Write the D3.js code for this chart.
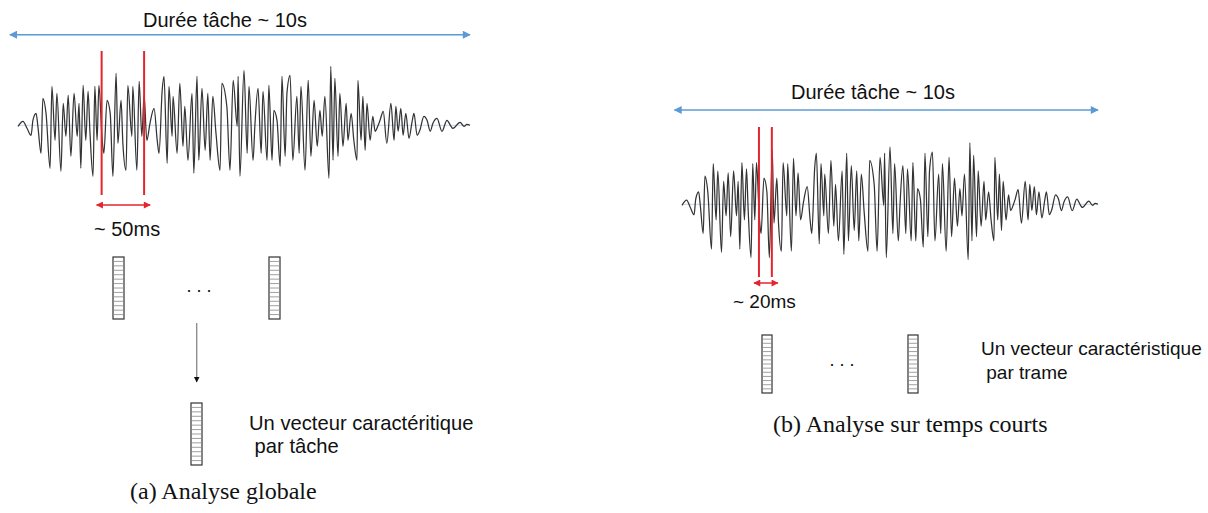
<!DOCTYPE html>
<html><head><meta charset="utf-8">
<script src="https://cdn.jsdelivr.net/npm/d3@7"></script>
<style>html,body{margin:0;padding:0;background:#fff}svg{display:block}</style>
</head><body>
<svg id="c" width="1208" height="513"></svg>
<script>
// ---- data ----
// waveform extrema: time in seconds (task of ~10 s) and amplitude (arbitrary units)
const waveTime = [0,0.11,0.20,0.29,0.33,0.40,0.44,0.51,0.55,0.62,0.71,0.75,0.82,0.86,0.95,1.00,1.06,1.11,1.17,1.24,1.31,1.35,1.39,1.44,1.50,1.55,1.59,1.66,1.70,1.75,1.79,1.86,1.90,1.97,2.04,2.10,2.17,2.21,2.28,2.32,2.39,2.43,2.52,2.54,2.63,2.68,2.74,2.79,2.85,2.92,3.01,3.08,3.12,3.19,3.23,3.30,3.34,3.41,3.43,3.52,3.58,3.65,3.69,3.76,3.85,3.89,3.96,4.00,4.07,4.14,4.20,4.25,4.31,4.38,4.47,4.51,4.62,4.69,4.76,4.85,4.87,4.91,5.00,5.07,5.11,5.20,5.24,5.31,5.38,5.42,5.51,5.55,5.62,5.66,5.73,5.80,5.84,5.91,5.95,6.02,6.08,6.17,6.22,6.26,6.35,6.42,6.48,6.55,6.62,6.68,6.73,6.79,6.88,6.92,6.97,7.01,7.08,7.12,7.19,7.26,7.30,7.37,7.43,7.50,7.52,7.59,7.63,7.68,7.72,7.79,7.85,7.90,7.96,8.01,8.08,8.16,8.25,8.32,8.36,8.41,8.47,8.52,8.58,8.65,8.72,8.76,8.83,8.89,8.98,9.05,9.12,9.18,9.27,9.38,9.49,9.58,9.62,9.78,9.87,9.93,10];
const waveAmp = [-1,4,-3,-10,5,12,-1,-28,27,12,-43,39,-15,32,-46,22,-11,30,-31,32,-11,22,-43,40,-15,34,-5,-51,39,-15,40,-13,-28,25,12,-51,52,-18,25,-18,-45,40,-11,39,-45,44,-11,30,-15,2,17,-15,-28,35,49,-38,39,-11,29,-28,42,-21,19,-35,32,-48,49,-35,37,-25,32,-35,29,-8,-45,42,19,-45,45,-1,49,-51,55,-28,39,-35,-1,37,-28,34,-35,40,-35,15,5,-41,49,-31,32,50,-35,29,-28,39,-45,45,-31,25,-21,15,-11,29,-53,59,-35,47,-31,32,-21,22,-15,12,-15,-35,45,-15,29,-25,22,-15,9,-6,-1,5,14,-18,22,-15,19,-6,17,-10,12,-13,4,12,-10,-5,9,5,-6,2,7,-6,5,-1,-3,3,-1,1,0];
const taskLabel = "Durée tâche ~ 10s";
const windowsSec = [[1.85, 2.79], [1.85, 2.16]];       // analysis window in each panel
const windowLabels = ["~ 50ms", "~ 20ms"];
const vectorCells = 14;
const dotsLabel = ". . .";
const descA = ["Un vecteur caractéritique", " par tâche"];
const descB = ["Un vecteur caractéristique", " par trame"];
const captions = ["(a) Analyse globale", "(b) Analyse sur temps courts"];

// ---- drawing ----
const svg = d3.select("#c");
const wave = waveTime.map((t, i) => ({t, a: waveAmp[i]}));
const BLUE = "#5b9bd5", RED = "#e3262d";
const SANS = "'Liberation Sans', Arial, sans-serif";
const SERIF = "'Liberation Serif', 'Times New Roman', serif";

const defs = svg.append("defs");
function marker(id, color, w, h) {
  defs.append("marker").attr("id", id).attr("viewBox", "0 0 10 10")
    .attr("refX", 9).attr("refY", 5).attr("markerUnits", "userSpaceOnUse")
    .attr("markerWidth", w).attr("markerHeight", h).attr("orient", "auto-start-reverse")
    .append("path").attr("d", "M0,0 L10,5 L0,10 Z").attr("fill", color);
}
marker("bArr", BLUE, 9, 8);
marker("rArr", RED, 8, 7);
marker("kArr", "#111", 6, 7);

function vector(g, x, y, w, h) {
  const cy = d3.scaleLinear().domain([0, vectorCells]).range([y, y + h]);
  g.append("rect").attr("x", x).attr("y", y).attr("width", w).attr("height", h)
    .attr("fill", "#fff").attr("stroke", "#333").attr("stroke-width", 1.2);
  g.selectAll(null).data(d3.range(1, vectorCells)).join("line")
    .attr("x1", x).attr("x2", x + w).attr("y1", d => cy(d)).attr("y2", d => cy(d))
    .attr("stroke", "#888").attr("stroke-width", 0.8);
}

function panel(cfg) {
  const g = svg.append("g");
  const x = d3.scaleLinear().domain([0, 10]).range([cfg.x0, cfg.x1]);
  const y = d3.scaleLinear().domain([-60, 60]).range([cfg.base + 60 * cfg.k, cfg.base - 60 * cfg.k]);
  g.append("text").attr("x", (cfg.x0 + cfg.x1) / 2 + cfg.titleDx).attr("y", cfg.titleY)
    .attr("text-anchor", "middle").attr("font-family", SANS).attr("font-size", 20)
    .attr("fill", "#111").text(taskLabel);
  g.append("line").attr("x1", x(-0.18)).attr("x2", x(10)).attr("y1", cfg.arrowY).attr("y2", cfg.arrowY)
    .attr("stroke", BLUE).attr("stroke-width", 1.5)
    .attr("marker-start", "url(#bArr)").attr("marker-end", "url(#bArr)");
  g.append("line").attr("x1", x(0)).attr("x2", x(10)).attr("y1", y(0)).attr("y2", y(0))
    .attr("stroke", "#a9cfe3").attr("stroke-width", 0.8);
  g.append("path").datum(wave)
    .attr("d", d3.line().x(d => x(d.t)).y(d => y(d.a)).curve(d3.curveMonotoneX))
    .attr("fill", "none").attr("stroke", "#333").attr("stroke-width", 1.25);
  const [w0, w1] = windowsSec[cfg.i];
  g.selectAll(null).data([w0, w1]).join("line")
    .attr("x1", d => x(d)).attr("x2", d => x(d)).attr("y1", cfg.redTop).attr("y2", cfg.redBot)
    .attr("stroke", RED).attr("stroke-width", 2);
  g.append("line").attr("x1", x(w0) - 5).attr("x2", x(w1) + 6).attr("y1", cfg.redArrowY).attr("y2", cfg.redArrowY)
    .attr("stroke", RED).attr("stroke-width", 1.5)
    .attr("marker-start", "url(#rArr)").attr("marker-end", "url(#rArr)");
  g.append("text").attr("x", cfg.winLabelX).attr("y", cfg.winLabelY)
    .attr("font-family", SANS).attr("font-size", cfg.winFs).attr("fill", "#111").text(windowLabels[cfg.i]);
  return g;
}

// Panel (a)
const ga = panel({i: 0, x0: 18, x1: 470, base: 125.3, k: 1.0, titleY: 27, titleDx: -19, arrowY: 34.7,
  redTop: 51, redBot: 195, redArrowY: 205, winLabelX: 94, winLabelY: 236, winFs: 20});
vector(ga, 113, 257, 11, 62);
vector(ga, 269, 257, 11, 62);
ga.append("text").attr("x", 199).attr("y", 292).attr("text-anchor", "middle")
  .attr("font-family", SANS).attr("font-size", 18).attr("fill", "#111").text(dotsLabel);
ga.append("line").attr("x1", 196.7).attr("x2", 196.7).attr("y1", 323).attr("y2", 382)
  .attr("stroke", "#888").attr("stroke-width", 1.3).attr("marker-end", "url(#kArr)");
vector(ga, 191, 403, 11, 62);
ga.selectAll(null).data(descA).join("text").attr("x", 249).attr("y", (d, i) => 430 + i * 23)
  .attr("font-family", SANS).attr("font-size", 20.2).attr("fill", "#111")
  .style("white-space", "pre").text(d => d);
ga.append("text").attr("x", 130).attr("y", 499).attr("font-family", SERIF).attr("font-size", 24)
  .attr("fill", "#111").text(captions[0]);

// Panel (b)
const gb = panel({i: 1, x0: 682, x1: 1098, base: 204.3, k: 1.044, titleY: 98.5, titleDx: -17, arrowY: 110,
  redTop: 127, redBot: 277, redArrowY: 283, winLabelX: 733, winLabelY: 308, winFs: 19});
vector(gb, 762, 335, 10, 58);
vector(gb, 908, 335, 10, 58);
gb.append("text").attr("x", 842).attr("y", 366).attr("text-anchor", "middle")
  .attr("font-family", SANS).attr("font-size", 18).attr("fill", "#111").text(dotsLabel);
gb.selectAll(null).data(descB).join("text").attr("x", 981).attr("y", (d, i) => 355 + i * 24)
  .attr("font-family", SANS).attr("font-size", 19).attr("fill", "#111")
  .style("white-space", "pre").text(d => d);
gb.append("text").attr("x", 773).attr("y", 432).attr("font-family", SERIF).attr("font-size", 24)
  .attr("fill", "#111").text(captions[1]);
</script>
</body></html>
